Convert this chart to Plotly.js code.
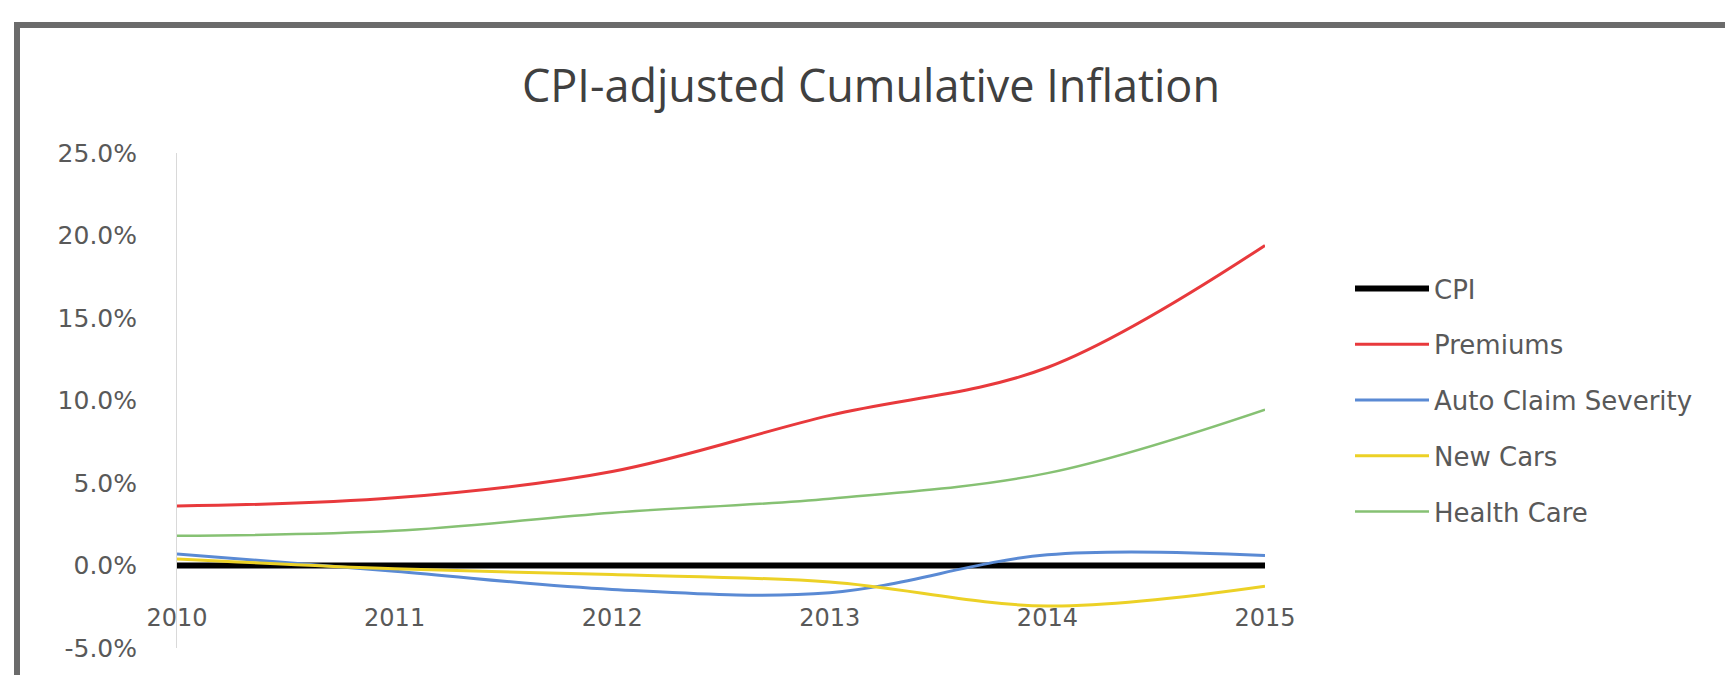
<!DOCTYPE html>
<html>
<head>
<meta charset="utf-8">
<script src="https://cdn.plot.ly/plotly-3.0.1.min.js"></script>
<style>
  html, body { margin: 0; padding: 0; background: #ffffff; }
  #chart { width: 1725px; height: 675px; }
</style>
</head>
<body>
<div id="chart"></div>
<script>
// ---- data (cumulative inflation, %, CPI-adjusted) ----
const years = [2010, 2011, 2012, 2013, 2014, 2015];
const yearLabels = ['2010', '2011', '2012', '2013', '2014', '2015'];
const cpi = [0, 0, 0, 0, 0, 0];
const premiums = [3.6, 4.1, 5.7, 9.1, 12.0, 19.4];
const autoClaimSeverity = [0.7, -0.35, -1.45, -1.65, 0.65, 0.6];
const newCars = [0.4, -0.2, -0.55, -1.0, -2.45, -1.25];
const healthCare = [1.8, 2.1, 3.2, 4.05, 5.6, 9.45];
const yTickVals = [-5, 0, 5, 10, 15, 20, 25];

const seriesNames = ['CPI', 'Premiums', 'Auto Claim Severity', 'New Cars', 'Health Care'];
const seriesValues = [cpi, premiums, autoClaimSeverity, newCars, healthCare];
const seriesColors = ['#000000', '#e8393c', '#5a8ad4', '#ecd126', '#86c173'];
const seriesWidths = [6, 3, 3, 3, 2.5];

const traces = seriesNames.map((name, i) => ({
  type: 'scatter',
  mode: 'lines',
  name: name,
  x: years,
  y: seriesValues[i],
  legendgroup: 'g' + i,
  line: { color: seriesColors[i], width: seriesWidths[i], shape: 'spline', smoothing: 1 },
  hoverinfo: 'x+y+name'
}));

const W = 1725, H = 675;
const L = 177, R = 460, T = 153, B = 27;
const pw = W - L - R, ph = H - T - B;
const px2x = px => (px - L) / pw;
const py2y = py => (H - B - py) / ph;

const layout = {
  width: W,
  height: H,
  margin: { l: L, r: R, t: T, b: B, pad: 0 },
  paper_bgcolor: '#ffffff',
  plot_bgcolor: '#ffffff',
  font: { family: 'DejaVu Sans', color: '#595959' },
  title: {
    text: 'CPI-adjusted Cumulative Inflation',
    font: { family: 'Open Sans', size: 45, color: '#404040' },
    x: 871 / W, xref: 'container', xanchor: 'center',
    y: 1 - 86 / H, yref: 'container', yanchor: 'middle'
  },
  xaxis: {
    type: 'linear',
    range: [2010, 2015],
    tickvals: years,
    ticktext: yearLabels,
    ticks: '',
    showgrid: false,
    zeroline: false,
    showline: false,
    anchor: 'free',
    position: 0.094,
    tickfont: { family: 'DejaVu Sans', size: 24, color: '#595959' },
    fixedrange: true
  },
  yaxis: {
    range: [-5, 25],
    tickvals: yTickVals,
    ticktext: yTickVals.map(v => v.toFixed(1) + '%'),
    ticks: '',
    ticklabelstandoff: 34,
    showgrid: false,
    zeroline: false,
    showline: true,
    linecolor: '#d9d9d9',
    linewidth: 1,
    tickfont: { family: 'DejaVu Sans', size: 25, color: '#595959' },
    fixedrange: true
  },
  showlegend: true,
  legend: {
    x: px2x(1350),
    xanchor: 'left',
    y: py2y(265),
    yanchor: 'top',
    itemwidth: 74,
    tracegroupgap: 19,
    traceorder: 'grouped',
    bgcolor: 'rgba(0,0,0,0)',
    font: { family: 'DejaVu Sans', size: 26, color: '#595959' }
  },
  shapes: [{
    type: 'rect',
    xref: 'paper', yref: 'paper',
    x0: px2x(17), x1: px2x(1745),
    y0: py2y(25), y1: py2y(700),
    line: { color: '#6b6b6b', width: 6 },
    fillcolor: 'rgba(0,0,0,0)',
    layer: 'below'
  }]
};

Plotly.newPlot('chart', traces, layout, { displayModeBar: false, staticPlot: true });
</script>
</body>
</html>
